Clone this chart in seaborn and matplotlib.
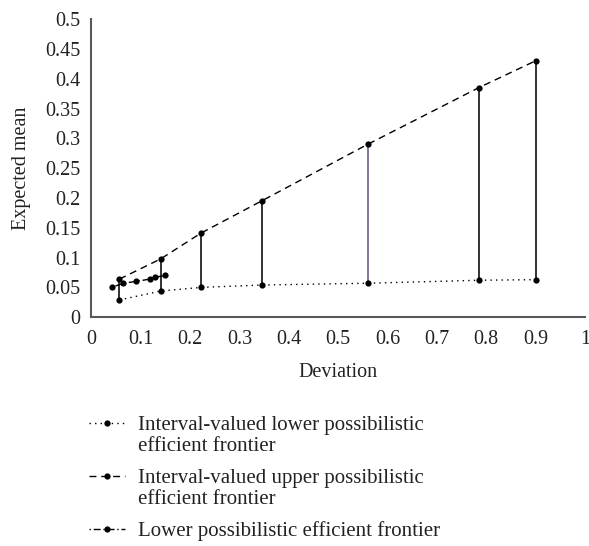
import numpy as np
import matplotlib
matplotlib.use("Agg")
import matplotlib.pyplot as plt
import seaborn as sns

# interval-valued frontiers (same deviations for lower / upper)
dev_interval = [0.057, 0.141, 0.222, 0.345, 0.560, 0.785, 0.900]
mean_lower = [0.029, 0.044, 0.050, 0.054, 0.057, 0.062, 0.063]
mean_upper = [0.064, 0.098, 0.141, 0.195, 0.290, 0.385, 0.430]

# lower possibilistic efficient frontier
dev_poss = [0.041, 0.065, 0.090, 0.119, 0.129, 0.150]
mean_poss = [0.050, 0.057, 0.060, 0.064, 0.067, 0.070]

x_ticklabels = ["0", "0.1", "0.2", "0.3", "0.4", "0.5", "0.6", "0.7", "0.8", "0.9", "1"]
y_ticklabels = ["0", "0.05", "0.1", "0.15", "0.2", "0.25", "0.3", "0.35", "0.4", "0.45", "0.5"]

sns.set_style("white")
plt.rcParams["font.family"] = ["Liberation Serif", "DejaVu Serif"]
FS = 14.5

fig = plt.figure(figsize=(5.89, 5.46), dpi=100)
ax = fig.add_axes([0.155, 0.419, 0.838, 0.546])

# interval bars
vcolors = ["#222222"] * len(dev_interval)
vcolors[4] = "#7b6a8e"
ax.vlines(dev_interval, mean_lower, mean_upper, colors=vcolors, linewidth=1.3, zorder=1)

common = dict(ax=ax, sort=False, color="black", linewidth=1.0, marker="o",
              markersize=4.5, markeredgewidth=0)
sns.lineplot(x=dev_interval, y=mean_lower,
             label="Interval-valued lower possibilistic\nefficient frontier", **common)
ax.lines[-1].set_dashes((1, 3))
sns.lineplot(x=dev_interval, y=mean_upper,
             label="Interval-valued upper possibilistic\nefficient frontier", **common)
ax.lines[-1].set_dashes((5, 3.5))
sns.lineplot(x=dev_poss, y=mean_poss,
             label="Lower possibilistic efficient frontier", **common)
ax.lines[-1].set_dashes((1, 2, 5, 2))

ax.set_xlim(0, 1)
ax.set_ylim(0, 0.5)
ax.set_xticks(np.arange(0, 1.01, 0.1))
ax.set_xticklabels(x_ticklabels)
ax.set_yticks(np.arange(0, 0.501, 0.05))
ax.set_yticklabels(y_ticklabels)
ax.tick_params(axis="both", length=0, labelsize=FS, colors="#222222")
ax.tick_params(axis="x", pad=9)
ax.tick_params(axis="y", pad=8)
ax.set_xlabel("Deviation", fontsize=FS, labelpad=10, color="#222222")
ax.set_ylabel("Expected mean", fontsize=FS, labelpad=10, color="#222222")

for s in ["top", "right"]:
    ax.spines[s].set_visible(False)
for s in ["left", "bottom"]:
    ax.spines[s].set_color("#595959")
    ax.spines[s].set_linewidth(1.5)

leg = ax.legend(loc="upper left", bbox_to_anchor=(0.151, 0.238),
                bbox_transform=fig.transFigure, frameon=False,
                prop={"size": 15}, handlelength=1.75, handletextpad=0.6,
                labelspacing=0.6, borderaxespad=0, borderpad=0)
for t in leg.get_texts():
    t.set_color("#222222")
    t.set_linespacing(1.15)
# put the handle next to the first line of each entry
for col in leg._legend_handle_box.get_children():
    for row in col.get_children():
        row.align = "top"

fig.savefig("out.png", dpi=100)
